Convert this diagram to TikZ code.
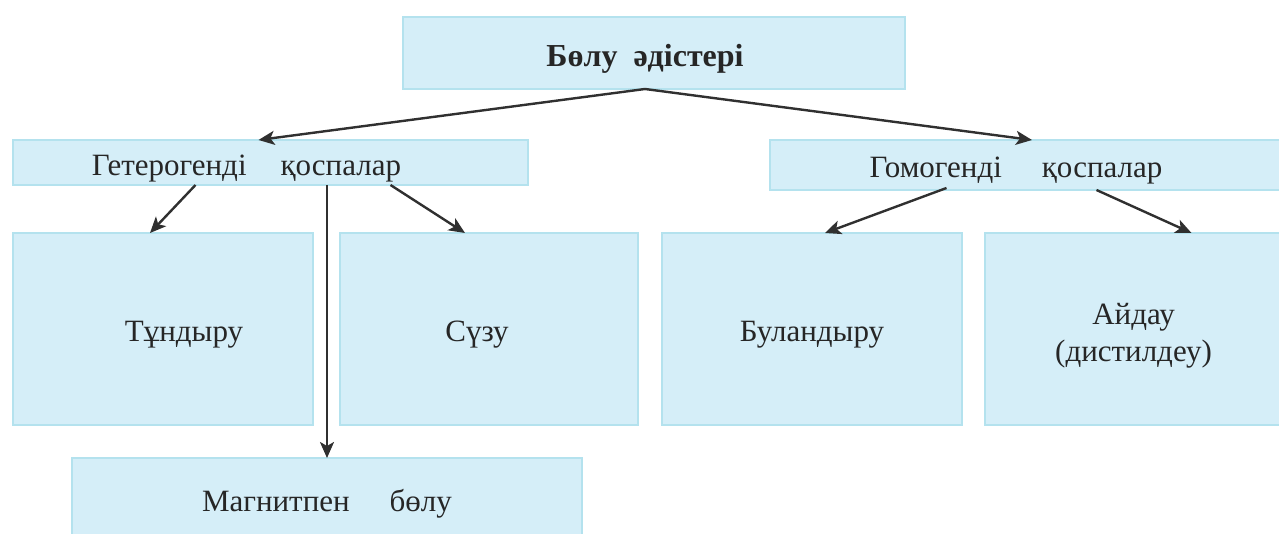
\documentclass[tikz,border=0pt]{standalone}
\usepackage{fontspec}
\setmainfont{Liberation Serif}
\usetikzlibrary{arrows.meta}
\definecolor{boxfill}{HTML}{D5EEF8}
\definecolor{boxline}{HTML}{B4E2EE}
\definecolor{arrowgray}{HTML}{303030}
\definecolor{txt}{HTML}{262626}
% set a label a little lower in its box, with an optional sideways offset
\newcommand{\boxtext}[2][0pt]{\hspace*{#1}\raisebox{-6pt}[\height][\depth]{#2}}
\tikzset{
  box/.style={rectangle, fill=boxfill, draw=boxline, line width=1.2pt,
    anchor=north west, inner sep=0pt, outer sep=0pt, text=txt,
    font=\fontsize{31}{38}\selectfont, align=center},
  arr/.style={draw=arrowgray, line width=2.4pt,
    -{Stealth[length=16pt,width=14pt,inset=4pt]}},
}
\begin{document}
\begin{tikzpicture}[x=1pt,y=-1pt]
  \useasboundingbox (0,0) rectangle (1279,534);

  % top level
  \node[box, minimum width=502pt, minimum height=72pt, font=\fontsize{32}{38}\selectfont\bfseries]
    (root) at (403,17) {\boxtext[-18pt]{Бөлу\enspace әдістері}};

  % mixture types
  \node[box, minimum width=515pt, minimum height=45pt]
    (het) at (13,140) {\boxtext[-48pt]{Гетерогенді\hspace{34pt}қоспалар}};
  \node[box, minimum width=512pt, minimum height=50pt]
    (hom) at (770,140) {\boxtext[-20pt]{Гомогенді\hspace{40pt}қоспалар}};

  % separation methods
  \node[box, minimum width=300pt, minimum height=192pt] (tund) at (13,233) {\boxtext[42pt]{Тұндыру}};
  \node[box, minimum width=298pt, minimum height=192pt] (suzu) at (340,233) {\boxtext[-24pt]{Сүзу}};
  \node[box, minimum width=300pt, minimum height=192pt] (bul) at (662,233) {\boxtext{Буландыру}};
  \node[box, minimum width=297pt, minimum height=192pt] (aid) at (985,233)
    {\boxtext{\begin{tabular}{@{}c@{}}Айдау\\[-1pt](дистилдеу)\end{tabular}}};
  \node[box, minimum width=510pt, minimum height=80pt] (mag) at (72,458) {\boxtext{Магнитпен\hspace{40pt}бөлу}};

  % connectors
  \draw[arr] ([xshift=-9pt]root.south) -- ([xshift=-12pt]het.north);
  \draw[arr] ([xshift=-9pt]root.south) -- ([xshift=6pt]hom.north);
  \draw[arr] ([xshift=-75pt]het.south) -- ([xshift=-13pt]tund.north);
  \draw[arr] ([xshift=120pt]het.south) -- ([xshift=-24pt]suzu.north);
  \draw[arr] ([xshift=56.5pt]het.south) -- (mag.north);
  \draw[arr] ([xshift=-79.5pt,yshift=2pt]hom.south) -- ([xshift=13pt]bul.north);
  \draw[arr] ([xshift=70.5pt]hom.south) -- ([xshift=58pt]aid.north);
\end{tikzpicture}
\end{document}
